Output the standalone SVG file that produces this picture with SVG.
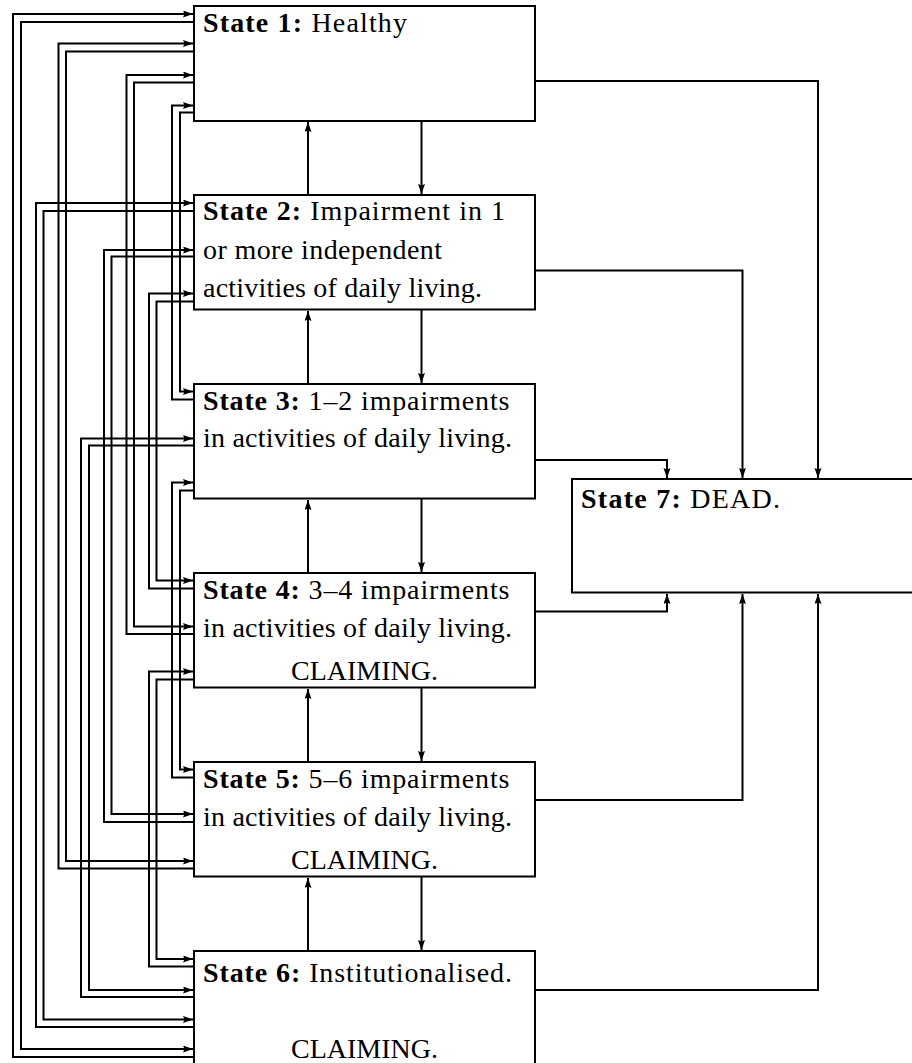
<svg xmlns="http://www.w3.org/2000/svg" width="912" height="1063" viewBox="0 0 912 1063">
<defs>
<marker id="ah" markerUnits="userSpaceOnUse" markerWidth="11" markerHeight="8" refX="10" refY="3.5" orient="auto">
<path d="M0,0 L10,3.5 L0,7 L1.5,3.5 z" fill="#000"/>
</marker>
<style>
.box{fill:#fff;stroke:#000;stroke-width:2}
.c{fill:none;stroke:#000;stroke-width:2;marker-end:url(#ah)}
text{font-family:"Liberation Serif","Times New Roman",serif;font-size:28px;fill:#000}
.b{font-weight:bold}
</style>
</defs>
<g id="connectors">
<path class="c" d="M308,195 V122"/>
<path class="c" d="M421.5,121 V194"/>
<path class="c" d="M308,384 V311"/>
<path class="c" d="M421.5,310 V383"/>
<path class="c" d="M308,573 V500"/>
<path class="c" d="M421.5,499 V572"/>
<path class="c" d="M308,762 V689"/>
<path class="c" d="M421.5,688 V761"/>
<path class="c" d="M308,951 V878"/>
<path class="c" d="M421.5,877 V950"/>
<path class="c" d="M535,81 H818 V478"/>
<path class="c" d="M535,270.5 H742.5 V478"/>
<path class="c" d="M535,460 H667 V478"/>
<path class="c" d="M535,611.5 H667 V594"/>
<path class="c" d="M535,800 H742.5 V594"/>
<path class="c" d="M535,990 H818 V594"/>
<path class="c" d="M194,22 H21 V1049 H193"/>
<path class="c" d="M194,1057 H13 V14 H193"/>
<path class="c" d="M194,51.5 H66 V861 H193"/>
<path class="c" d="M194,868.5 H58.5 V43.5 H193"/>
<path class="c" d="M194,82.5 H134 V626.5 H193"/>
<path class="c" d="M194,634 H126.5 V75 H193"/>
<path class="c" d="M194,112.5 H180 V391.5 H193"/>
<path class="c" d="M194,399.5 H172 V105.5 H193"/>
<path class="c" d="M194,211 H43.5 V1019.5 H193"/>
<path class="c" d="M194,1027 H36 V203 H193"/>
<path class="c" d="M194,256.5 H111.5 V814 H193"/>
<path class="c" d="M194,822 H104 V250 H193"/>
<path class="c" d="M194,301.5 H156.5 V580.5 H193"/>
<path class="c" d="M194,588.5 H149 V293.5 H193"/>
<path class="c" d="M194,445.5 H89 V990 H193"/>
<path class="c" d="M194,997 H81 V438.5 H193"/>
<path class="c" d="M194,490.5 H180 V769.5 H193"/>
<path class="c" d="M194,777.5 H172 V482.5 H193"/>
<path class="c" d="M194,679.5 H156.5 V959 H193"/>
<path class="c" d="M194,966.5 H149 V671.5 H193"/>
</g>
<g id="state1">
<rect class="box" x="194" y="6" width="341" height="115"/>
<text x="203" y="32" textLength="204" lengthAdjust="spacing"><tspan class="b">State 1:</tspan> Healthy</text>
</g>
<g id="state2">
<rect class="box" x="194" y="195" width="341" height="114.5"/>
<text x="203" y="220" textLength="302" lengthAdjust="spacing"><tspan class="b">State 2:</tspan> Impairment in 1</text>
<text x="203" y="258.5" textLength="239" lengthAdjust="spacing">or more independent</text>
<text x="203" y="297" textLength="279" lengthAdjust="spacing">activities of daily living.</text>
</g>
<g id="state3">
<rect class="box" x="194" y="384" width="341" height="114.5"/>
<text x="203" y="409.5" textLength="306.5" lengthAdjust="spacing"><tspan class="b">State 3:</tspan> 1–2 impairments</text>
<text x="203" y="447" textLength="309" lengthAdjust="spacing">in activities of daily living.</text>
</g>
<g id="state4">
<rect class="box" x="194" y="573" width="341" height="114.5"/>
<text x="203" y="598.5" textLength="306.5" lengthAdjust="spacing"><tspan class="b">State 4:</tspan> 3–4 impairments</text>
<text x="203" y="636.5" textLength="309" lengthAdjust="spacing">in activities of daily living.</text>
<text x="364.5" y="679.5" text-anchor="middle">CLAIMING.</text>
</g>
<g id="state5">
<rect class="box" x="194" y="762" width="341" height="114.5"/>
<text x="203" y="787.5" textLength="306.5" lengthAdjust="spacing"><tspan class="b">State 5:</tspan> 5–6 impairments</text>
<text x="203" y="825.5" textLength="309" lengthAdjust="spacing">in activities of daily living.</text>
<text x="364.5" y="868.5" text-anchor="middle">CLAIMING.</text>
</g>
<g id="state6">
<rect class="box" x="194" y="951" width="341" height="125"/>
<text x="203" y="981.5" textLength="309" lengthAdjust="spacing"><tspan class="b">State 6:</tspan> Institutionalised.</text>
<text x="364.5" y="1058" text-anchor="middle">CLAIMING.</text>
</g>
<g id="state7">
<rect class="box" x="572" y="479" width="350" height="113.5"/>
<text x="581" y="508" textLength="199" lengthAdjust="spacing"><tspan class="b">State 7:</tspan> DEAD.</text>
</g>
</svg>
